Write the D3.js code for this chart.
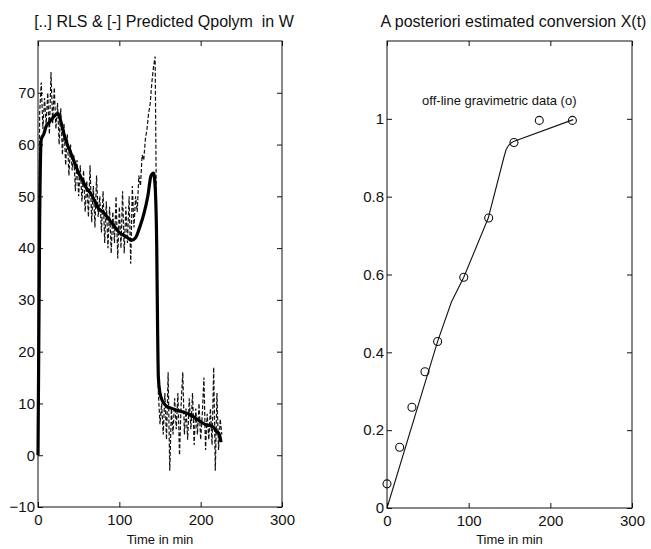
<!DOCTYPE html>
<html>
<head>
<meta charset="utf-8">
<script src="https://cdn.jsdelivr.net/npm/d3@7"></script>
<style>
  body { margin: 0; background: #fff; }
  svg { font-family: "Liberation Sans", Arial, sans-serif; }
  .tick text { font-size: 15px; fill: #111; }
  .tick line { stroke: #111; }
  .title { font-size: 16px; fill: #111; white-space: pre; }
  .xlabel { font-size: 13px; fill: #111; }
</style>
</head>
<body>
<div class="chart"></div>
<script>
// left panel: measured (RLS, dashed) and predicted (solid) Qpolym in W
var rlsTime = [0,2,4,6,8,10,12,14,16,18,20,22,24,26,28,30,32,34,36,38,40,42,44,46,48,50,52,54,56,58,
  60,62,64,66,68,70,72,74,76,78,80,82,84,86,88,90,92,94,96,98,100,102,104,106,108,110,112,114,116,118,
  120,122,124,126,128,130,132,134,136,138,140,142,144,146,148,150,152,154,156,158,160,162,164,166,168,170,172,174,176,178,
  180,182,184,186,188,190,192,194,196,198,200,202,204,206,208,210,212,214,216,218,220,222,224,226];
var rlsQ = [2,66,72,63,69,64,70,62,74,64,71,63,68,60,67,58,64,56,62,54,60,55,58,51,57,50,56,49,55,47,
  53,46,56,45,52,44,54,46,50,43,51,41,49,40,48,39,47,41,50,38,48,40,51,39,48,41,50,37,52,44,
  50,47,54,52,58,57,61,63,66,68,72,75,77,40,12,6,10,4,12,3,16,-3,9,4,11,5,12,0,10,16,
  4,9,3,11,5,12,2,9,4,10,3,8,15,1,8,3,9,2,17,-3,12,1,7,4];

var predTime = [0,2,4,7,10,15,20,25,28,32,36,40,45,50,55,60,65,70,75,80,85,90,95,100,105,110,115,120,125,130,
  135,139,142,144,146,147,148,150,153,158,165,175,185,195,205,215,220,223,225];
var predQ = [0,45,61,62,63.5,64.5,65.5,66,64.5,62,60,58.5,56.5,54.5,53,51.5,50.5,49,47.5,47,46,45,44,43,42.5,42,41.5,42,44,46.5,
  50,54,54.5,52,40,25,15,12,10.5,9.5,9,8.5,8,7,6,5.5,4.5,4,2.5];

// right panel: estimated conversion and off-line gravimetric samples
var convTime = [0,62,79,94,124,143,146,149,152,155,228];
var convX = [0,0.428,0.53,0.593,0.745,0.9,0.922,0.932,0.938,0.942,0.998];
var gravTime = [0,15.5,30.5,46.5,62,94,124.5,155.5,186.5,227];
var gravX = [0.062,0.156,0.259,0.35,0.428,0.593,0.745,0.939,0.996,0.996];

var xTicks = [0,100,200,300];
var leftYTicks = [-10,0,10,20,30,40,50,60,70];
var rightYTicks = [0,0.2,0.4,0.6,0.8,1];

var svg = d3.select(".chart").append("svg")
  .attr("width", 651)
  .attr("height", 549);

function makePanel(box, yDomain, yTicks, yFormat, title) {
  var g = svg.append("g");
  var x = d3.scaleLinear().domain([0, 300]).range([box.left, box.right]);
  var y = d3.scaleLinear().domain(yDomain).range([box.bottom, box.top]);

  // inward ticks on all four sides, matlab style
  g.append("g").attr("transform", `translate(0,${box.bottom})`)
    .call(d3.axisBottom(x).tickValues(xTicks).tickSizeInner(-5).tickSizeOuter(0).tickPadding(7).tickFormat(d3.format("d")));
  g.append("g").attr("transform", `translate(0,${box.top})`)
    .call(d3.axisTop(x).tickValues(xTicks).tickSizeInner(-5).tickSizeOuter(0).tickFormat(""));
  g.append("g").attr("transform", `translate(${box.left},0)`)
    .call(d3.axisLeft(y).tickValues(yTicks).tickSizeInner(-5).tickSizeOuter(0).tickPadding(3).tickFormat(yFormat));
  g.append("g").attr("transform", `translate(${box.right},0)`)
    .call(d3.axisRight(y).tickValues(yTicks).tickSizeInner(-5).tickSizeOuter(0).tickFormat(""));
  g.selectAll(".domain").remove();
  g.selectAll(".tick text").style("font-family", "Liberation Sans, Arial, sans-serif");

  g.append("rect")
    .attr("x", box.left).attr("y", box.top)
    .attr("width", box.right - box.left).attr("height", box.bottom - box.top)
    .attr("fill", "none").attr("stroke", "#111").attr("stroke-width", 1);

  g.append("text").attr("class", "title")
    .attr("x", (box.left + box.right) / 2 + 4).attr("y", 27)
    .attr("text-anchor", "middle").text(title);
  g.append("text").attr("class", "xlabel")
    .attr("x", (box.left + box.right) / 2).attr("y", 544)
    .attr("text-anchor", "middle").text("Time in min");

  return { g: g, x: x, y: y };
}

var left = makePanel({ left: 38, right: 282, top: 41, bottom: 507 }, [-10, 80], leftYTicks,
  d3.format("d"), "[..] RLS & [-] Predicted Qpolym  in W");
var right = makePanel({ left: 387, right: 632, top: 41, bottom: 508 }, [0, 1.2], rightYTicks,
  function(d) { return d === 0 || d === 1 ? String(d) : d3.format(".1f")(d); },
  "A posteriori estimated conversion X(t)");

// left panel lines
var rlsLine = d3.line()
  .x(function(d, i) { return left.x(rlsTime[i]); })
  .y(function(d) { return left.y(d); });
left.g.append("path")
  .datum(rlsQ)
  .attr("d", rlsLine)
  .attr("fill", "none")
  .attr("stroke", "#111")
  .attr("stroke-width", 1.2)
  .attr("stroke-dasharray", "4,2");

var predLine = d3.line()
  .curve(d3.curveMonotoneX)
  .x(function(d, i) { return left.x(predTime[i]); })
  .y(function(d) { return left.y(d); });
left.g.append("path")
  .datum(predQ)
  .attr("d", predLine)
  .attr("fill", "none")
  .attr("stroke", "#000")
  .attr("stroke-width", 3.2)
  .attr("stroke-linejoin", "round");

// right panel line + circles
var convLine = d3.line()
  .x(function(d, i) { return right.x(convTime[i]); })
  .y(function(d) { return right.y(d); });
right.g.append("path")
  .datum(convX)
  .attr("d", convLine)
  .attr("fill", "none")
  .attr("stroke", "#111")
  .attr("stroke-width", 1.1)
  .attr("stroke-linejoin", "round");

right.g.selectAll("circle")
  .data(gravX)
  .enter().append("circle")
  .attr("cx", function(d, i) { return right.x(gravTime[i]); })
  .attr("cy", function(d) { return right.y(d); })
  .attr("r", 4)
  .attr("fill", "none")
  .attr("stroke", "#111")
  .attr("stroke-width", 1.1);

right.g.append("text")
  .attr("class", "xlabel")
  .attr("x", right.x(43))
  .attr("y", right.y(1.035))
  .text("off-line gravimetric data (o)");
</script>
</body>
</html>
